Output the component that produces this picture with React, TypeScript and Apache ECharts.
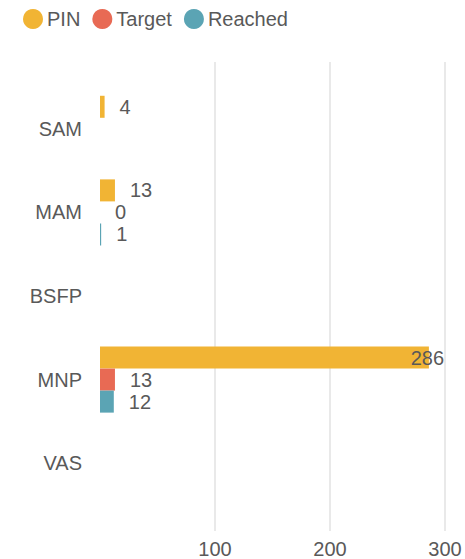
import React, { useEffect, useRef } from "react";
import * as echarts from "echarts";

const categories = ["SAM", "MAM", "BSFP", "MNP", "VAS"];
const pinValues = [4, 13, null, 286, null];
const targetValues = [null, 0, null, 13, null];
const reachedValues = [null, 1, null, 12, null];
const seriesNames = ["PIN", "Target", "Reached"];
const seriesColors = ["#F1B434", "#E86A54", "#5BA4B4"];
const xTicks = { min: 0, max: 300, interval: 100 };

const TEXT = "#595959";
const FONT = "'Liberation Sans', Arial, sans-serif";

export default function App() {
  const ref = useRef<HTMLDivElement>(null);
  useEffect(() => {
    if (!ref.current) return;
    const chart = echarts.init(ref.current, undefined, { renderer: "svg" });
    const gridRightPad = 20;
    const values = [pinValues, targetValues, reachedValues];
    chart.setOption({
      animation: false,
      textStyle: { fontFamily: FONT },
      legend: {
        data: seriesNames,
        icon: "circle",
        itemWidth: 20,
        itemHeight: 20,
        itemGap: 12,
        left: 23,
        top: 9,
        padding: 0,
        textStyle: { fontSize: 20, color: TEXT, fontFamily: FONT, padding: [0, 0, 0, -1] },
      },
      grid: [
        { left: 100, right: gridRightPad, top: 87, bottom: 54 },
        { left: 100, right: gridRightPad, top: 62, bottom: 28 },
      ],
      xAxis: [
        { type: "value", gridIndex: 0, min: xTicks.min, max: xTicks.max, interval: xTicks.interval, show: false },
        {
          type: "value",
          gridIndex: 1,
          min: xTicks.min,
          max: xTicks.max,
          interval: xTicks.interval,
          axisLine: { show: false },
          axisTick: { show: false },
          axisLabel: { showMinLabel: false, fontSize: 20, color: TEXT, fontFamily: FONT, margin: 8 },
          splitLine: { show: true, showMinLine: false, lineStyle: { color: "#e2e2e2", width: 1.5 } },
        },
      ],
      yAxis: [
        {
          type: "category",
          gridIndex: 0,
          data: categories,
          inverse: true,
          axisLine: { show: false },
          axisTick: { show: false },
          splitLine: { show: false },
          axisLabel: { fontSize: 20, color: TEXT, fontFamily: FONT, margin: 18 },
        },
        { type: "value", gridIndex: 1, min: 0, max: 1, show: false },
      ],
      series: seriesNames.map((name, i) => ({
        name,
        type: "bar",
        xAxisIndex: 0,
        yAxisIndex: 0,
        data: values[i],
        barGap: "0%",
        barCategoryGap: "21%",
        itemStyle: { color: seriesColors[i] },
        label: {
          show: true,
          position: "right",
          distance: 15,
          fontSize: 20,
          color: TEXT,
          fontFamily: FONT,
        },
        labelLayout: (params: any) => {
          const r = params.labelRect;
          const maxRight = chart.getWidth() - gridRightPad - 1;
          if (r.x + r.width > maxRight) {
            return { x: maxRight - r.width, y: r.y, align: "left", verticalAlign: "top" };
          }
          return {};
        },
      })),
      color: seriesColors,
    });
    return () => chart.dispose();
  }, []);
  return (
    <div
      ref={ref}
      style={{ position: "fixed", left: 0, top: 0, width: 465, height: 559, background: "#fff" }}
    />
  );
}
